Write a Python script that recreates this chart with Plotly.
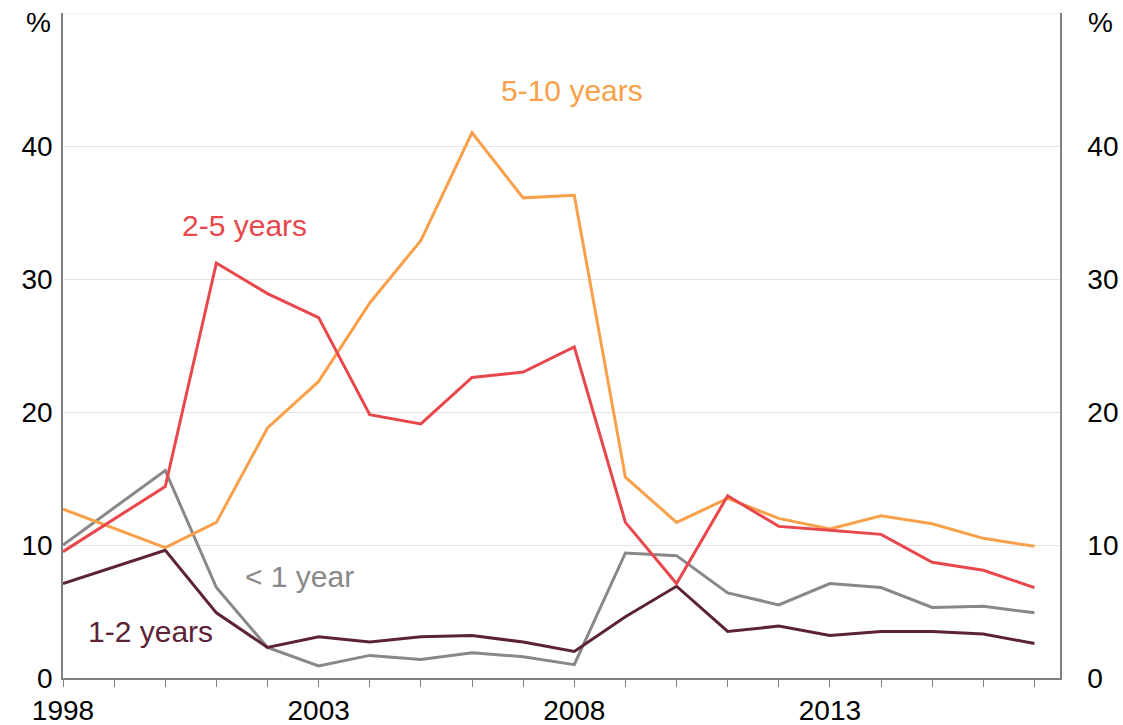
import plotly.graph_objects as go

years = [1998, 2000, 2001, 2002, 2003, 2004, 2005, 2006, 2007, 2008,
         2009, 2010, 2011, 2012, 2013, 2014, 2015, 2016, 2017]

lt1 = [10.0, 15.6, 6.8, 2.3, 0.9, 1.7, 1.4, 1.9, 1.6, 1.0,
       9.4, 9.2, 6.4, 5.5, 7.1, 6.8, 5.3, 5.4, 4.9]
y1_2 = [7.1, 9.6, 4.9, 2.3, 3.1, 2.7, 3.1, 3.2, 2.7, 2.0,
        4.6, 6.9, 3.5, 3.9, 3.2, 3.5, 3.5, 3.3, 2.6]
y2_5 = [9.5, 14.4, 31.2, 28.9, 27.1, 19.8, 19.1, 22.6, 23.0, 24.9,
        11.7, 7.1, 13.7, 11.4, 11.1, 10.8, 8.7, 8.1, 6.8]
y5_10 = [12.7, 9.8, 11.7, 18.8, 22.3, 28.2, 32.9, 41.0, 36.1, 36.3,
         15.1, 11.7, 13.5, 12.0, 11.2, 12.2, 11.6, 10.5, 9.9]

series = [
    ("< 1 year", lt1, "#888888"),
    ("1-2 years", y1_2, "#5C2337"),
    ("5-10 years", y5_10, "#F8A04A"),
    ("2-5 years", y2_5, "#E8474C"),
]

labels = [
    ("5-10 years", 2007.96, 44.2, "#F8A04A"),
    ("2-5 years", 2001.55, 34.0, "#E8474C"),
    ("< 1 year", 2002.63, 7.6, "#888888"),
    ("1-2 years", 1999.72, 3.5, "#5C2337"),
]

xticks = [1998, 2003, 2008, 2013]
yticks = [0, 10, 20, 30, 40]

fig = go.Figure()
for name, vals, col in series:
    fig.add_trace(go.Scatter(x=years, y=vals, mode="lines", name=name,
                             line=dict(color=col, width=3)))
# invisible trace to activate right axis
fig.add_trace(go.Scatter(x=years, y=y5_10, yaxis="y2", mode="lines",
                         line=dict(width=0), hoverinfo="skip", showlegend=False,
                         opacity=0))

font = "Liberation Sans, Arial, sans-serif"
for text, x, y, col in labels:
    fig.add_annotation(x=x, y=y, text=text, showarrow=False,
                       font=dict(family=font, size=30, color=col))

for xp in [38, 1100]:
    fig.add_annotation(xref="paper", yref="paper",
                       x=(xp - 63) / (1123 - 126), y=(725 - 47 - 22) / (725 - 60),
                       text="%", showarrow=False, xanchor="center", yanchor="middle",
                       font=dict(family=font, size=28, color="#000"))

fig.update_layout(
    width=1123, height=725,
    margin=dict(l=63, r=63, t=13, b=47, autoexpand=False),
    paper_bgcolor="white", plot_bgcolor="white",
    showlegend=False,
    font=dict(family=font, size=28, color="#000"),
    xaxis=dict(range=[1998, 2017.5], tickvals=xticks,
               ticktext=[str(v) for v in xticks],
               ticks="outside", ticklen=7, tickcolor="#808080",
               showline=True, linecolor="#808080", linewidth=1.5,
               showgrid=False, zeroline=False, automargin=False,
               minor=dict(dtick=1, tick0=1998, ticks="outside", ticklen=7,
                          tickcolor="#808080", showgrid=False),
               tickfont=dict(size=28)),
    yaxis=dict(range=[0, 50], tickvals=yticks, showgrid=True,
               gridcolor="#e3e3e3", gridwidth=1, zeroline=False,
               showline=True, linecolor="#808080", linewidth=1.5,
               automargin=False,
               ticks="", ticklabelstandoff=3, tickfont=dict(size=28)),
    yaxis2=dict(range=[0, 50], tickvals=yticks, overlaying="y", side="right",
                showgrid=False, zeroline=False, showline=True,
                linecolor="#808080", linewidth=1.5, ticks="",
                automargin=False,
                ticklabelstandoff=20, tickfont=dict(size=28)),
)
# top gridline at 50
fig.add_shape(type="line", xref="paper", yref="y", x0=0, x1=1, y0=50, y1=50,
              line=dict(color="#e3e3e3", width=1), layer="below")

fig.write_html("out.html", config={"displayModeBar": False},
               post_script="document.body.style.margin='0';document.body.style.padding='0';")
